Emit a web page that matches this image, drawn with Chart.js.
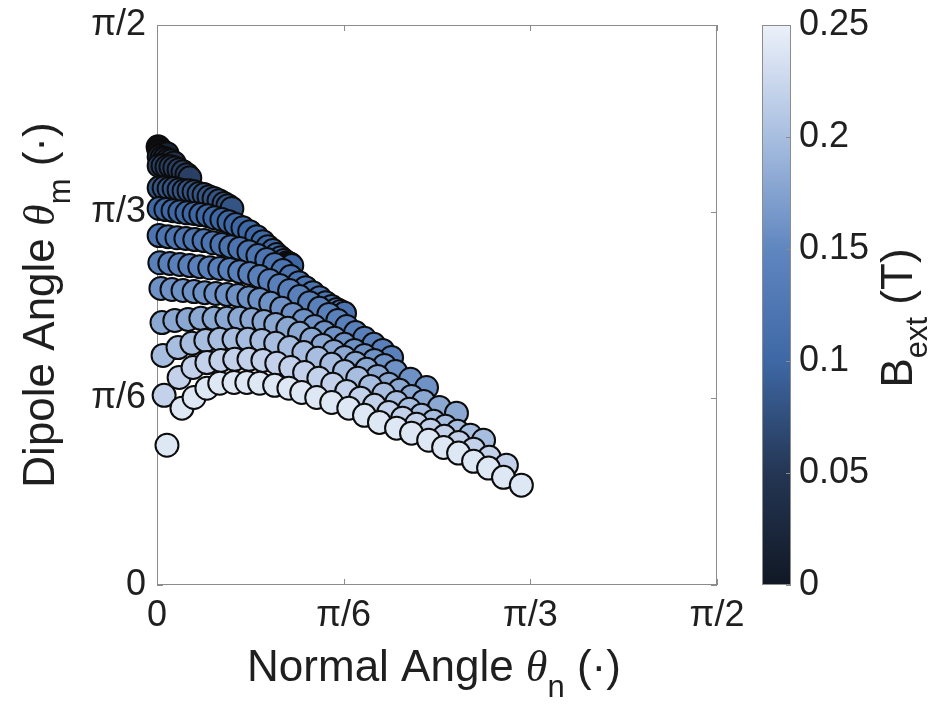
<!DOCTYPE html>
<html>
<head>
<meta charset="utf-8">
<script src="https://cdn.jsdelivr.net/npm/chart.js@4.4.1/dist/chart.umd.min.js"></script>
<style>
    html, body { margin: 0; padding: 0; background: #ffffff; }
    canvas { display: block; }
</style>
</head>
<body>
<canvas id="chart" width="940" height="715"></canvas>
<script>
// --------------------------------- Data ---------------------------------
// External field for each row of markers (T)
const bField = [0, 0.02, 0.04, 0.06, 0.08, 0.1, 0.12, 0.14, 0.16, 0.18, 0.2, 0.22, 0.24];

// Normal angle theta_n (rad), one list per field value
const thetaN = [
    [0.003, 0.006],
    [0.006, 0.011, 0.017, 0.022, 0.028],
    [0.006, 0.014, 0.022, 0.031, 0.039, 0.048],
    [0.006, 0.017, 0.028, 0.039, 0.05, 0.062, 0.073, 0.084, 0.092],
    [0.006, 0.02, 0.034, 0.048, 0.062, 0.076, 0.09, 0.104, 0.118, 0.132, 0.146, 0.16, 0.174, 0.188, 0.199, 0.21],
    [0.006, 0.025, 0.045, 0.064, 0.084, 0.104, 0.123, 0.143, 0.162, 0.182, 0.202, 0.221, 0.241, 0.26, 0.28, 0.297, 0.311, 0.325, 0.336, 0.347, 0.356, 0.364, 0.37, 0.375, 0.378],
    [0.006, 0.031, 0.056, 0.081, 0.106, 0.132, 0.157, 0.182, 0.207, 0.232, 0.258, 0.283, 0.308, 0.33, 0.353, 0.375, 0.398, 0.417, 0.437, 0.456, 0.473, 0.49, 0.504, 0.515, 0.526],
    [0.008, 0.036, 0.064, 0.092, 0.12, 0.148, 0.176, 0.204, 0.232, 0.26, 0.288, 0.316, 0.344, 0.372, 0.4, 0.428, 0.456, 0.482, 0.507, 0.532, 0.557, 0.582, 0.608, 0.633, 0.658],
    [0.011, 0.042, 0.073, 0.104, 0.134, 0.165, 0.196, 0.227, 0.258, 0.288, 0.319, 0.35, 0.381, 0.412, 0.442, 0.47, 0.498, 0.526, 0.554, 0.582, 0.61, 0.638, 0.669, 0.711, 0.756],
    [0.014, 0.05, 0.087, 0.123, 0.16, 0.196, 0.232, 0.266, 0.3, 0.333, 0.367, 0.4, 0.434, 0.465, 0.496, 0.526, 0.557, 0.588, 0.619, 0.65, 0.68, 0.714, 0.748, 0.792, 0.84],
    [0.017, 0.059, 0.098, 0.137, 0.176, 0.216, 0.255, 0.294, 0.333, 0.372, 0.412, 0.451, 0.49, 0.526, 0.563, 0.599, 0.636, 0.672, 0.708, 0.742, 0.776, 0.809, 0.843, 0.879, 0.916],
    [0.02, 0.062, 0.101, 0.14, 0.179, 0.218, 0.258, 0.297, 0.336, 0.375, 0.414, 0.454, 0.493, 0.532, 0.571, 0.61, 0.65, 0.689, 0.728, 0.767, 0.806, 0.846, 0.888, 0.932, 0.98],
    [0.028, 0.07, 0.104, 0.14, 0.176, 0.216, 0.252, 0.288, 0.33, 0.37, 0.406, 0.448, 0.49, 0.538, 0.582, 0.624, 0.672, 0.714, 0.762, 0.804, 0.846, 0.888, 0.93, 0.972, 1.022],
];

// Dipole angle theta_m (rad), one list per field value
const thetaM = [
    [1.229, 1.226],
    [1.218, 1.218, 1.215, 1.212, 1.21],
    [1.201, 1.198, 1.196, 1.193, 1.19, 1.184],
    [1.176, 1.176, 1.173, 1.173, 1.17, 1.165, 1.159, 1.151, 1.142],
    [1.114, 1.114, 1.112, 1.112, 1.109, 1.106, 1.106, 1.103, 1.098, 1.095, 1.089, 1.084, 1.078, 1.07, 1.064, 1.056],
    [1.056, 1.053, 1.05, 1.047, 1.044, 1.042, 1.039, 1.036, 1.03, 1.025, 1.019, 1.011, 1.002, 0.991, 0.977, 0.963, 0.949, 0.938, 0.927, 0.918, 0.91, 0.904, 0.902, 0.899, 0.896],
    [0.98, 0.977, 0.974, 0.972, 0.969, 0.966, 0.96, 0.955, 0.949, 0.944, 0.935, 0.924, 0.913, 0.899, 0.882, 0.865, 0.848, 0.834, 0.82, 0.806, 0.792, 0.781, 0.773, 0.767, 0.762],
    [0.904, 0.902, 0.899, 0.896, 0.893, 0.89, 0.888, 0.885, 0.879, 0.874, 0.865, 0.854, 0.84, 0.826, 0.809, 0.792, 0.776, 0.759, 0.742, 0.725, 0.708, 0.692, 0.675, 0.658, 0.638],
    [0.832, 0.829, 0.826, 0.823, 0.82, 0.818, 0.815, 0.812, 0.806, 0.801, 0.79, 0.776, 0.759, 0.742, 0.725, 0.708, 0.692, 0.675, 0.658, 0.644, 0.63, 0.616, 0.599, 0.577, 0.554],
    [0.736, 0.742, 0.745, 0.748, 0.748, 0.748, 0.748, 0.745, 0.739, 0.731, 0.72, 0.706, 0.689, 0.672, 0.655, 0.638, 0.622, 0.605, 0.585, 0.563, 0.546, 0.529, 0.515, 0.498, 0.482],
    [0.644, 0.666, 0.678, 0.686, 0.689, 0.689, 0.689, 0.686, 0.678, 0.666, 0.652, 0.636, 0.619, 0.599, 0.58, 0.557, 0.535, 0.512, 0.493, 0.476, 0.459, 0.445, 0.431, 0.42, 0.406],
    [0.532, 0.582, 0.61, 0.624, 0.63, 0.633, 0.633, 0.63, 0.622, 0.61, 0.596, 0.58, 0.563, 0.543, 0.524, 0.504, 0.484, 0.468, 0.451, 0.434, 0.417, 0.4, 0.381, 0.358, 0.336],
    [0.392, 0.496, 0.526, 0.552, 0.566, 0.568, 0.568, 0.566, 0.56, 0.552, 0.54, 0.526, 0.512, 0.496, 0.476, 0.456, 0.44, 0.426, 0.406, 0.386, 0.37, 0.347, 0.328, 0.302, 0.28],
];

// Tick values and labels
const angleTickValues = [0, Math.PI / 6, Math.PI / 3, Math.PI / 2];
const angleTickLabels = ["0", "\u03c0/6", "\u03c0/3", "\u03c0/2"];
const cbTickValues = [0, 0.05, 0.1, 0.15, 0.2, 0.25];
const cbTickLabels = ["0", "0.05", "0.1", "0.15", "0.2", "0.25"];

// --------------------------------- Styling ---------------------------------
const textColor = "#1f1f1f";
const frameColor = "#8c8c8c";
const sansFamily = "'Liberation Sans', Arial, sans-serif";
const serifFamily = "'Liberation Serif', 'Times New Roman', serif";

// Colormap (dark navy -> steel blue -> near white), stops in tesla
const cmapStops = [0, 0.05, 0.1, 0.15, 0.2, 0.25];
const cmapRGB = [
    [17, 24, 36],
    [36, 54, 84],
    [62, 104, 165],
    [96, 134, 192],
    [168, 190, 224],
    [236, 241, 249],
];

function rgbString(c) {
    return "rgb(" + c.map((v) => Math.round(v)).join(",") + ")";
}

function fieldColor(b) {
    for (let i = 0; i < cmapStops.length - 1; i++) {
        if (b <= cmapStops[i + 1]) {
            const t = (b - cmapStops[i]) / (cmapStops[i + 1] - cmapStops[i]);
            const a = cmapRGB[i];
            const c = cmapRGB[i + 1];
            return rgbString([0, 1, 2].map((k) => a[k] + (c[k] - a[k]) * t));
        }
    }
    return rgbString(cmapRGB[cmapRGB.length - 1]);
}

// Build the scatter points, low field first so high field sits on top
const points = [];
const pointColors = [];
bField.forEach((b, row) => {
    thetaN[row].forEach((tn, i) => {
        points.push({ x: tn, y: thetaM[row][i] });
        pointColors.push(fieldColor(b));
    });
});

// --------------------------------- Plugins ---------------------------------
// Axes box with inward ticks, drawn under the markers
const framePlugin = {
    id: "frame",
    beforeDatasetsDraw(chart) {
        const { ctx, chartArea: a, scales } = chart;
        ctx.save();
        ctx.strokeStyle = frameColor;
        ctx.lineWidth = 1;
        ctx.strokeRect(a.left + 0.5, a.top + 0.5, a.right - a.left - 1, a.bottom - a.top - 1);
        ctx.beginPath();
        angleTickValues.forEach((v) => {
            const px = Math.round(scales.x.getPixelForValue(v)) + 0.5;
            ctx.moveTo(px, a.bottom);
            ctx.lineTo(px, a.bottom - 6);
            ctx.moveTo(px, a.top);
            ctx.lineTo(px, a.top + 6);
            const py = Math.round(scales.y.getPixelForValue(v)) + 0.5;
            ctx.moveTo(a.left, py);
            ctx.lineTo(a.left + 6, py);
            ctx.moveTo(a.right, py);
            ctx.lineTo(a.right - 6, py);
        });
        ctx.stroke();
        ctx.restore();
    },
};

// Colour bar on the "cb" scale
const colorbarPlugin = {
    id: "colorbar",
    afterDraw(chart) {
        const ctx = chart.ctx;
        const cb = chart.scales.cb;
        const top = cb.getPixelForValue(cb.max);
        const bottom = cb.getPixelForValue(cb.min);
        const left = cb.left + 45;
        const right = cb.left + 74;
        const grad = ctx.createLinearGradient(0, bottom, 0, top);
        cmapStops.forEach((s, i) => grad.addColorStop(s / cb.max, rgbString(cmapRGB[i])));
        ctx.save();
        ctx.fillStyle = grad;
        ctx.fillRect(left, top, right - left, bottom - top);
        ctx.strokeStyle = frameColor;
        ctx.lineWidth = 1;
        ctx.strokeRect(left + 0.5, top + 0.5, right - left - 1, bottom - top - 1);
        ctx.beginPath();
        cbTickValues.forEach((v) => {
            const py = Math.round(cb.getPixelForValue(v)) + 0.5;
            ctx.moveTo(right - 5, py);
            ctx.lineTo(right, py);
        });
        ctx.stroke();
        ctx.restore();
    },
};

// Draw a label made of several runs (for subscripts and the Greek theta)
function drawRichText(ctx, parts, x, y, angle) {
    ctx.save();
    ctx.translate(x, y);
    ctx.rotate(angle);
    ctx.fillStyle = textColor;
    ctx.textBaseline = "alphabetic";
    let total = 0;
    parts.forEach((p) => {
        ctx.font = p.font;
        p.w = ctx.measureText(p.text).width;
        total += p.w;
    });
    let cx = -total / 2;
    parts.forEach((p) => {
        ctx.font = p.font;
        ctx.fillText(p.text, cx, p.dy || 0);
        cx += p.w;
    });
    ctx.restore();
}

const titlesPlugin = {
    id: "titles",
    afterDraw(chart) {
        const ctx = chart.ctx;
        const big = "44px " + sansFamily;
        const sub = "31px " + sansFamily;
        const theta = "italic 44px " + serifFamily;
        const a = chart.chartArea;
        // x title
        drawRichText(ctx, [
            { text: "Normal Angle ", font: big },
            { text: "\u03b8", font: theta },
            { text: "n", font: sub, dy: 16 },
            { text: " (\u00b7)", font: big },
        ], (a.left + a.right) / 2 - 3, 681, 0);
        // y title
        drawRichText(ctx, [
            { text: "Dipole Angle ", font: big },
            { text: "\u03b8", font: theta },
            { text: "m", font: sub, dy: 16 },
            { text: " (\u00b7)", font: big },
        ], 54, 305, -Math.PI / 2);
        // colour bar title
        drawRichText(ctx, [
            { text: "B", font: big },
            { text: "ext", font: sub, dy: 15 },
            { text: " (T)", font: big },
        ], 912, 318, -Math.PI / 2);
    },
};

// --------------------------------- Chart ---------------------------------
const tickFont = { family: sansFamily, size: 36 };
// invisible tick marks, used only to push the labels away from the axis
const spacerGrid = (len) => ({
    display: true,
    drawOnChartArea: false,
    drawTicks: true,
    tickLength: len,
    color: "rgba(0,0,0,0)",
});

const chart = new Chart(document.getElementById("chart"), {
    type: "scatter",
    data: {
        datasets: [
            {
                data: points,
                xAxisID: "x",
                yAxisID: "y",
                pointBackgroundColor: pointColors,
                pointBorderColor: "#0c0c0c",
                pointBorderWidth: 2,
                pointRadius: 11.5,
                pointHoverRadius: 11.5,
                clip: false,
            },
        ],
    },
    options: {
        responsive: false,
        animation: false,
        devicePixelRatio: 1,
        events: [],
        layout: { padding: { top: 25, left: 0, right: 0, bottom: 0 } },
        plugins: {
            legend: { display: false },
            tooltip: { enabled: false },
        },
        scales: {
            x: {
                type: "linear",
                position: "bottom",
                min: 0,
                max: Math.PI / 2,
                afterBuildTicks: (s) => {
                    s.ticks = angleTickValues.map((v) => ({ value: v }));
                },
                afterFit: (s) => {
                    s.height = 130;
                },
                ticks: {
                    callback: (v, i) => angleTickLabels[i],
                    font: tickFont,
                    color: textColor,
                    padding: 3,
                    maxRotation: 0,
                    minRotation: 0,
                    autoSkip: false,
                },
                grid: spacerGrid(6),
                border: { display: false },
            },
            y: {
                type: "linear",
                position: "left",
                min: 0,
                max: Math.PI / 2,
                afterBuildTicks: (s) => {
                    s.ticks = angleTickValues.map((v) => ({ value: v }));
                },
                afterFit: (s) => {
                    s.width = 157;
                },
                ticks: {
                    callback: (v, i) => angleTickLabels[i],
                    font: tickFont,
                    color: textColor,
                    padding: 3,
                    autoSkip: false,
                },
                grid: spacerGrid(8),
                border: { display: false },
            },
            cb: {
                type: "linear",
                axis: "y",
                position: "right",
                min: 0,
                max: 0.25,
                afterBuildTicks: (s) => {
                    s.ticks = cbTickValues.map((v) => ({ value: v }));
                },
                afterFit: (s) => {
                    s.width = 223;
                },
                ticks: {
                    callback: (v, i) => cbTickLabels[i],
                    font: tickFont,
                    color: textColor,
                    padding: 3,
                    autoSkip: false,
                },
                grid: spacerGrid(79),
                border: { display: false },
            },
        },
    },
    plugins: [framePlugin, colorbarPlugin, titlesPlugin],
});
</script>
</body>
</html>
